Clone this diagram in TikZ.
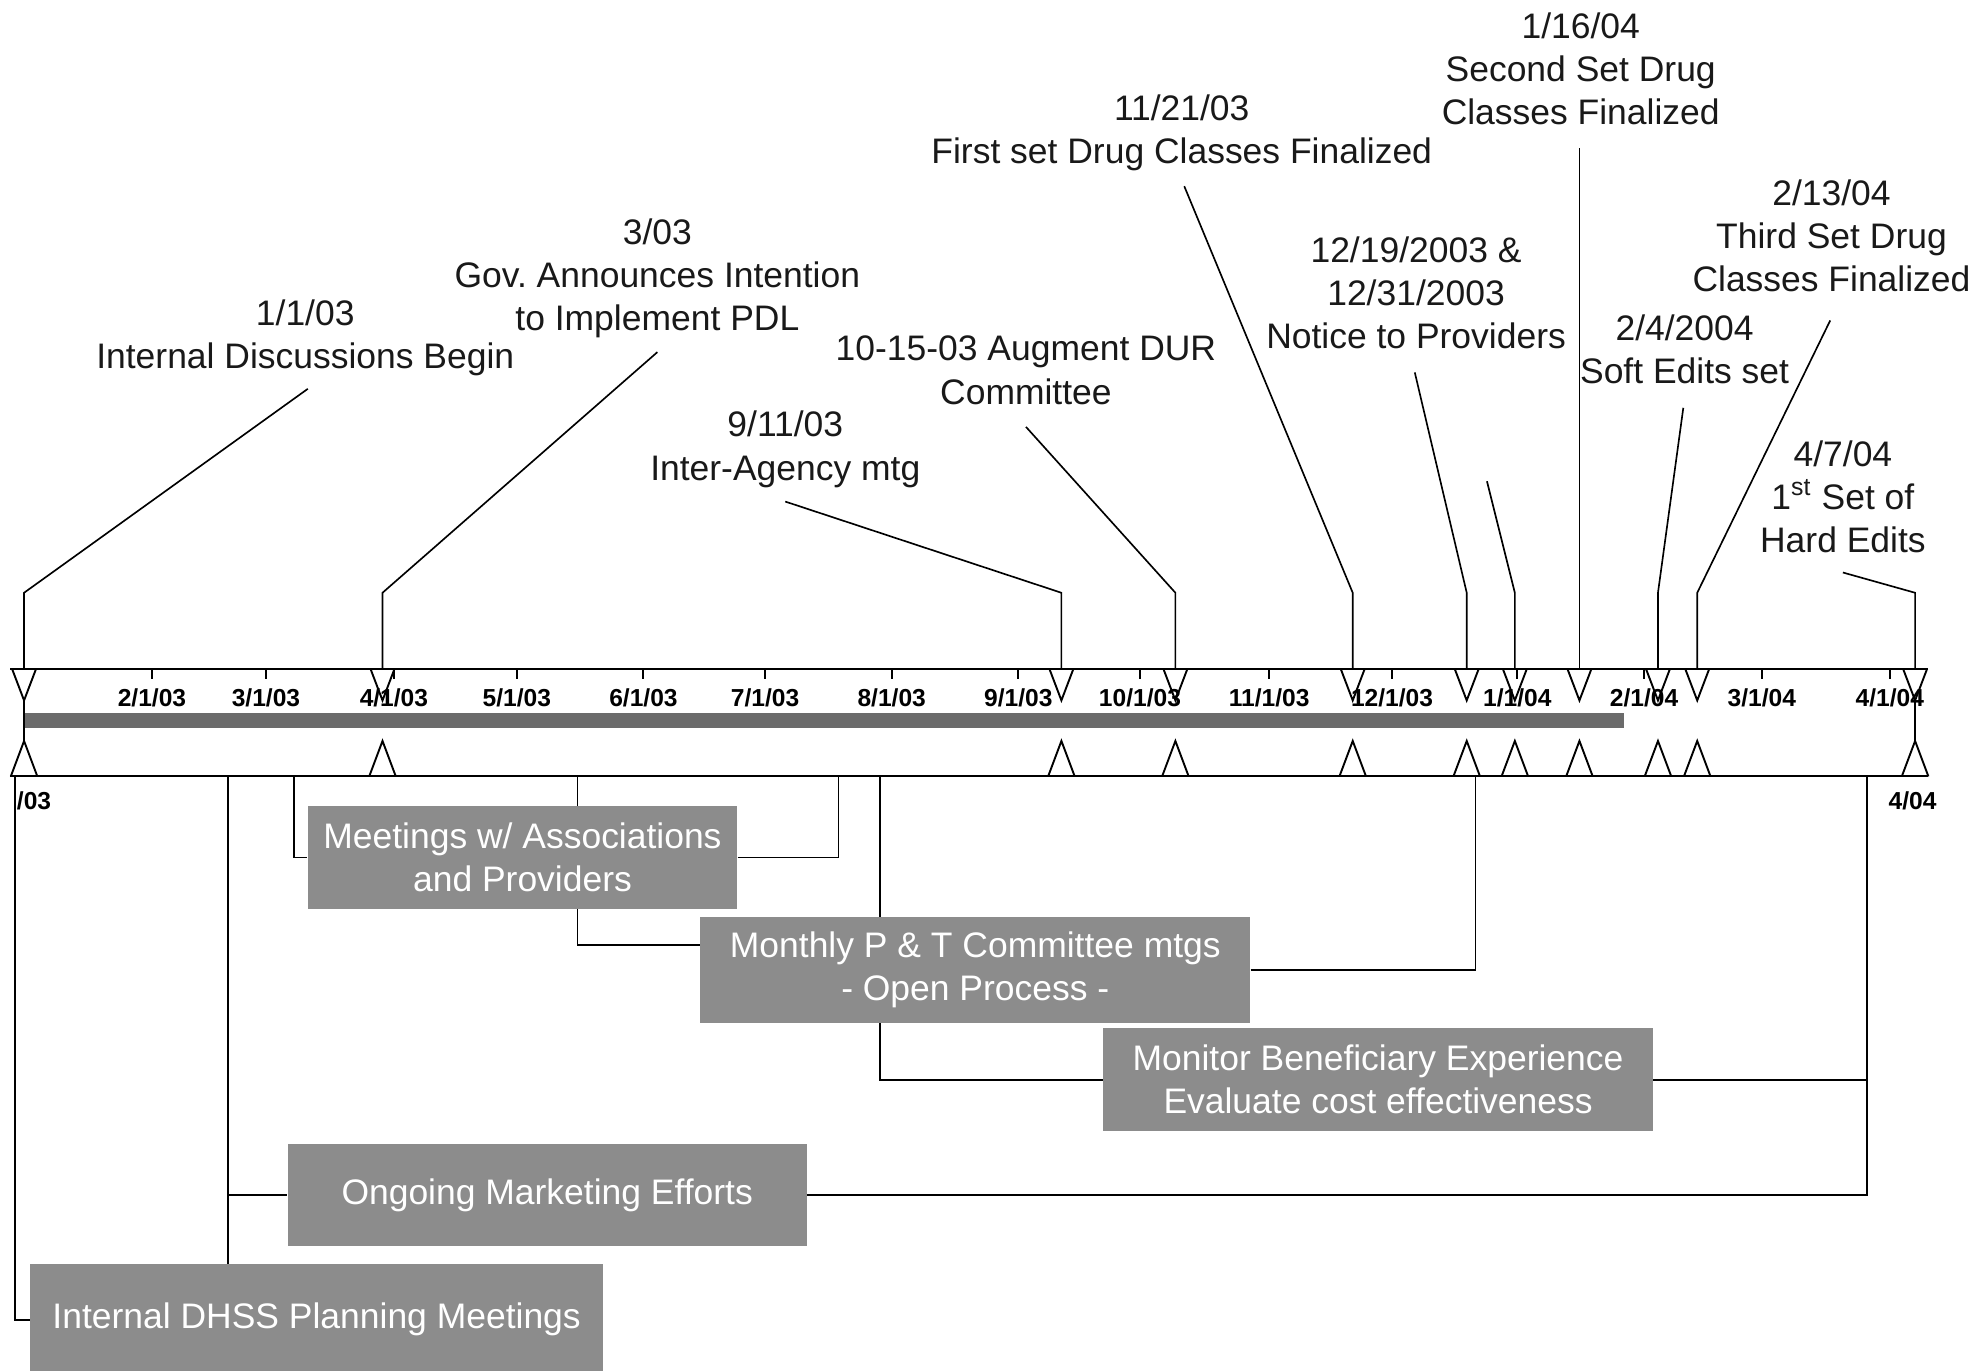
\documentclass[tikz,border=0pt]{standalone}
\usepackage{fontspec}
\setmainfont{Liberation Sans}
\frenchspacing
\pgfdeclarelayer{background}
\pgfsetlayers{background,main}
\begin{document}
\begin{tikzpicture}[x=0.5pt,y=-0.5pt,
  lab/.style={align=center,font=\fontsize{14}{17}\selectfont,inner sep=0pt,anchor=base,text=black!90},
  month/.style={font=\fontsize{9.7}{11}\selectfont\bfseries,inner sep=0pt,anchor=base},
  lead/.style={line width=0.65pt},
  tl/.style={line width=0.75pt},
  conn/.style={line width=0.7pt},
  gbox/.style={fill=black!45,text=white,align=center,font=\fontsize{14}{17}\selectfont,inner sep=0pt}
]
\useasboundingbox (0,0) rectangle (1568,1082);

% ---- timeline frame ----
\draw[tl] (8,528) -- (1522,528);
\draw[tl] (8,613) -- (1522,613);
\fill[black!58] (18,563) rectangle (1282,575);

% month ticks and labels
\foreach \x/\m/\yy in {120/2/03,210/3/03,311/4/03,408/5/03,508/6/03,604/7/03,704/8/03,804/9/03,900/10/03,1002/11/03,1099/12/03,1198/1/04,1298/2/04,1391/3/04,1492/4/04}{
  \draw[tl] (\x,528) -- (\x,536);
  \node[month] (m\m-\yy) at (\x,557.5) {\m/1/\yy};
}
\node[month,anchor=base west] (start) at (13,639) {/03};
\node[month] (end) at (1510,639) {4/04};

% event markers
\foreach \x [count=\i] in {19,302,838,928,1068,1158,1196,1247,1309,1340,1512}{
  \coordinate (e\i) at (\x,528);
  \draw[tl] (\x-9.5,528) -- (\x,553) -- (\x+9.5,528);
  \draw[tl] (\x-10.5,613) -- (\x,585) -- (\x+10.5,613);
}
\draw[tl] (19,553) -- (19,585);
\draw[tl] (1512,553) -- (1512,585);

% ---- event labels (anchor = baseline of last line) ----
\node[lab] (l1) at (241,291) {1/1/03\\Internal Discussions Begin};
\node[lab] (l2) at (519,261) {3/03\\Gov. Announces Intention\\to Implement PDL};
\node[lab] (l3) at (620,379) {9/11/03\\Inter-Agency mtg};
\node[lab] (l4) at (810,319) {10-15-03 Augment DUR\\Committee};
\node[lab] (l5) at (933,129) {11/21/03\\First set Drug Classes Finalized};
\node[lab] (l6) at (1118,275) {12/19/2003 \&\\12/31/2003\\Notice to Providers};
\node[lab] (l7) at (1248,98) {1/16/04\\Second Set Drug\\Classes Finalized};
\node[lab] (l8) at (1446,230) {2/13/04\\Third Set Drug\\Classes Finalized};
\node[lab] (l9) at (1330,303) {2/4/2004\\Soft Edits set};
\node[lab] (l10) at (1455,436) {4/7/04\\1\textsuperscript{st} Set of\\Hard Edits};

% leader start points
\coordinate (s1) at (243,307);
\coordinate (s2) at (519,278);
\coordinate (s3) at (620,396);
\coordinate (s4) at (810,337);
\coordinate (s5) at (935,147);
\coordinate (s6) at (1117,294);
\coordinate (s7) at (1174,380);
\coordinate (s8) at (1247,117);
\coordinate (s9) at (1329,322);
\coordinate (s10) at (1445,253);
\coordinate (s11) at (1455,452);

\draw[lead] (s1) -- (19,468) -- (e1);
\draw[lead] (s2) -- (302,468) -- (e2);
\draw[lead] (s3) -- (838,468) -- (e3);
\draw[lead] (s4) -- (928,468) -- (e4);
\draw[lead] (s5) -- (1068,468) -- (e5);
\draw[lead] (s6) -- (1158,468) -- (e6);
\draw[lead] (s7) -- (1196,468) -- (e7);
\draw[lead] (s8) -- (e8);
\draw[lead] (s9) -- (1309,468) -- (e9);
\draw[lead] (s10) -- (1340,468) -- (e10);
\draw[lead] (s11) -- (1512,468) -- (e11);

% ---- activity boxes ----
\node[gbox,minimum width=169.5pt,minimum height=41pt] (b1) at (412.5,677) {Meetings w/ Associations\\and Providers};
\node[gbox,minimum width=217pt,minimum height=42pt] (b2) at (770,766) {Monthly P \& T Committee mtgs\\- Open Process -};
\node[gbox,minimum width=217pt,minimum height=40.5pt] (b3) at (1088,852.5) {Monitor Beneficiary Experience\\Evaluate cost effectiveness};
\node[gbox,minimum width=205pt,minimum height=40.5pt] (b4) at (432,943.5) {Ongoing Marketing Efforts};
\node[gbox,minimum width=226pt,minimum height=44pt] (b5) at (250,1042) {Internal DHSS Planning Meetings};

% connector anchors on the timeline
\coordinate (t1) at (12,613);
\coordinate (t2) at (180,613);
\coordinate (t3) at (232,613);
\coordinate (t4) at (456,613);
\coordinate (t5) at (662,613);
\coordinate (t6) at (695,613);
\coordinate (t7) at (1165,613);
\coordinate (t8) at (1474,613);

\begin{pgfonlayer}{background}
\draw[conn] (t1) |- (b5.west);
\draw[conn] (t2) -- (b5.north -| t2);
\draw[conn] (t2 |- b4.west) -- (b4.west);
\draw[conn] (b4.east) -| (t8);
\draw[conn] (b3.east) -- (b3.east -| t8);
\draw[conn] (t3) |- (b1.west);
\draw[conn] (b1.east) -| (t5);
\draw[conn] (t4) |- ([yshift=10pt]b2.west);
\draw[conn] (b2.east) -| (t7);
\draw[conn] (t6) |- (b3.west);
\end{pgfonlayer}
\end{tikzpicture}
\end{document}
